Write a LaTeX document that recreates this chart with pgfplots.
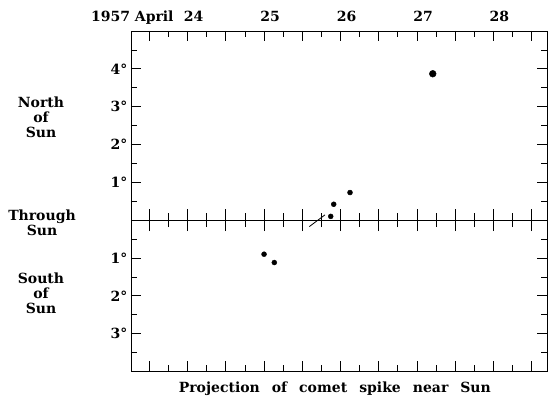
\documentclass[border=0pt]{standalone}
\usepackage{pgfplots}
\pgfplotsset{compat=1.18}
\usepackage{fontspec}
\setmainfont{DejaVu Serif}
\begin{document}
\begin{tikzpicture}
\def\lbl{\fontsize{14}{15}\bfseries\selectfont}
\begin{axis}[name=main, scale only axis, width=416pt, height=340.5pt,
  xmin=23.26, xmax=28.70, ymin=-4, ymax=5,
  xtick={23.5,24,...,28.5}, minor x tick num=1, xticklabels={},
  ytick={-3,-2,-1,1,2,3,4}, yticklabels={3°,2°,1°,1°,2°,3°,4°},
  minor ytick={-3.5,-2.5,-1.5,-0.5,0.5,1.5,2.5,3.5,4.5},
  major tick length=10pt, minor tick length=6pt,
  tick style={line width=0.8pt, black},
  axis line style={line width=0.9pt},
  yticklabel style={font=\lbl},
  /pgf/number format/assume math mode=true,
  clip=false]
\addplot[only marks, mark=*, mark size=2.5pt, black] coordinates {
  (26.124,0.73) (25.911,0.42) (25.872,0.10) (25.00,-0.90) (25.134,-1.12)};
\addplot[only marks, mark=*, mark size=3.4pt, black] coordinates {(27.206,3.87)};
\addplot[black, line width=0.8pt] coordinates {(25.592,-0.17) (25.797,0.14)};
\node[font=\lbl, align=center] at (axis cs:23.26,2.71) [xshift=-90pt] {North\\of\\Sun};
\node[font=\lbl, align=center] at (axis cs:23.26,-0.06) [xshift=-89pt] {Through\\Sun};
\node[font=\lbl, align=center] at (axis cs:23.26,-1.94) [xshift=-90pt] {South\\of\\Sun};
\node[font=\lbl, anchor=base] at (axis cs:24,5) [yshift=9pt, xshift=6pt] {24};
\node[font=\lbl, anchor=base] at (axis cs:25,5) [yshift=9pt, xshift=6pt] {25};
\node[font=\lbl, anchor=base] at (axis cs:26,5) [yshift=9pt, xshift=6pt] {26};
\node[font=\lbl, anchor=base] at (axis cs:27,5) [yshift=9pt, xshift=6pt] {27};
\node[font=\lbl, anchor=base] at (axis cs:28,5) [yshift=9pt, xshift=6pt] {28};
\node[font=\lbl, anchor=base east] at (axis cs:24,5) [yshift=9pt, xshift=-10.5pt] {1957 April};
\node[font=\lbl, anchor=base] at (rel axis cs:0.49,0) [yshift=-21.5pt] {Projection\hspace{12pt}of\hspace{12pt}comet\hspace{12pt}spike\hspace{12pt}near\hspace{12pt}Sun};
\end{axis}
\begin{axis}[at={(main.south west)}, anchor=south west, scale only axis,
  width=416pt, height=340.5pt,
  xmin=23.26, xmax=28.70, ymin=-4, ymax=5,
  axis x line=middle, axis y line=none,
  xtick={23.5,24,...,28.5}, minor x tick num=1, xticklabels={},
  major tick length=22pt, minor tick length=14pt, tick align=center,
  tick style={line width=0.8pt, black},
  axis line style={-, line width=0.9pt}]
\addplot[draw=none] coordinates {(24,0)};
\end{axis}
\path ([xshift=-131pt, yshift=-27.5pt]main.south west) rectangle ([xshift=1pt, yshift=31pt]main.north east);
\end{tikzpicture}
\end{document}
